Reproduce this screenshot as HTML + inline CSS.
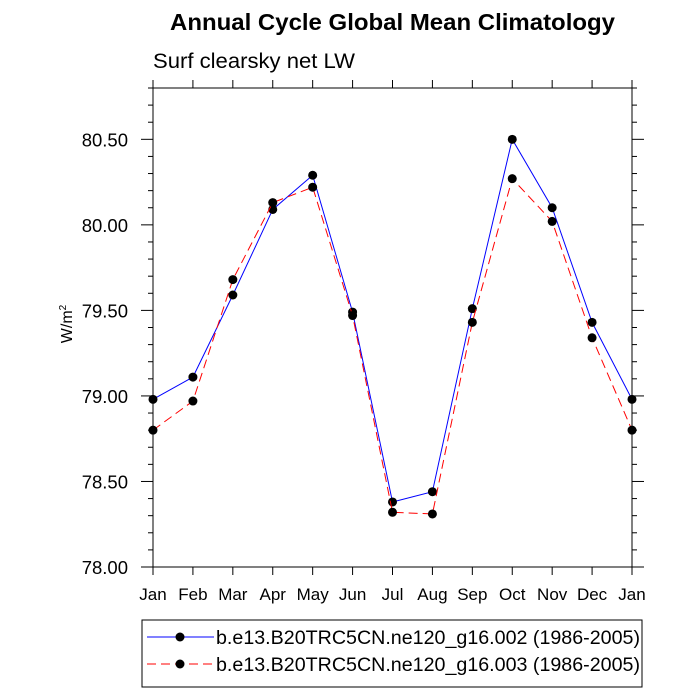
<!DOCTYPE html>
<html><head><meta charset="utf-8"><style>body{margin:0;background:#fff}svg{display:block;font-family:"Liberation Sans",sans-serif}</style></head>
<body>
<svg id="chart" width="700" height="700">
<text x="170" y="30" textLength="445" lengthAdjust="spacingAndGlyphs" font-size="23" font-weight="bold">Annual Cycle Global Mean Climatology</text>
<text x="153" y="68" textLength="202" lengthAdjust="spacingAndGlyphs" font-size="21">Surf clearsky net LW</text>
<text transform="translate(72,324) rotate(-90)" text-anchor="middle" font-size="16">W/m<tspan font-size="10" dy="-6">2</tspan></text>
<g id="axes"></g><g id="series"></g>
<rect x="142" y="620" width="500" height="67" fill="none" stroke="#000" stroke-width="1"/>
<g id="legend"></g>
</svg>
<script>
const months=["Jan","Feb","Mar","Apr","May","Jun","Jul","Aug","Sep","Oct","Nov","Dec","Jan"];
const seriesA=[78.98,79.11,79.59,80.09,80.29,79.49,78.38,78.44,79.51,80.50,80.10,79.43,78.98];
const seriesB=[78.80,78.97,79.68,80.13,80.22,79.47,78.32,78.31,79.43,80.27,80.02,79.34,78.80];
const yTicks=["78.00","78.50","79.00","79.50","80.00","80.50"];
const legendLabels=["b.e13.B20TRC5CN.ne120_g16.002 (1986-2005)","b.e13.B20TRC5CN.ne120_g16.003 (1986-2005)"];
const L=153,R=632,T=88,B=567,yMin=78,yMax=80.8;
const ns="http://www.w3.org/2000/svg";
const X=i=>L+(R-L)*i/(months.length-1);
const Y=v=>B-(v-yMin)/(yMax-yMin)*(B-T);
function mk(p,tag,a){const e=document.createElementNS(ns,tag);for(const k in a)e.setAttribute(k,a[k]);p.appendChild(e);return e;}
const ax=document.getElementById('axes');
const fr=mk(ax,'rect',{x:L,y:T,width:R-L,height:B-T,fill:'none',stroke:'#000','stroke-width':1});


for(let k=0;k<=28;k++){const v=yMin+k*0.1,y=Y(v),maj=k%5==0,len=maj?12:5;
 mk(ax,'line',{x1:L-len,x2:L,y1:y,y2:y,stroke:'#000'});mk(ax,'line',{x1:R,x2:R+len,y1:y,y2:y,stroke:'#000'});}
yTicks.forEach(t=>{const e=mk(ax,'text',{x:L-25,y:Y(+t)+7,'text-anchor':'end','font-size':18.5});e.textContent=t;
 
 });
months.forEach((m,i)=>{const x=X(i);mk(ax,'line',{x1:x,x2:x,y1:B,y2:B+8,stroke:'#000'});mk(ax,'line',{x1:x,x2:x,y1:T-8,y2:T,stroke:'#000'});
 const e=mk(ax,'text',{x:x,y:B+33,'text-anchor':'middle','font-size':17});e.textContent=m;
 
 });
const sg=document.getElementById('series');
function draw(vals,color,dash,name){const pts=vals.map((v,i)=>X(i)+','+Y(v)).join(' ');
 const pl=mk(sg,'polyline',{points:pts,fill:'none',stroke:color,'stroke-width':1,'stroke-dasharray':dash});
 
 
 vals.forEach((v,i)=>{const c=mk(sg,'circle',{cx:X(i),cy:Y(v),r:4.5,fill:'#000'});
  
  });}
draw(seriesA,'#0000ff','none','series-002');
draw(seriesB,'#ff0000','9,5','series-003');
const lg=document.getElementById('legend');
[['#0000ff','none'],['#ff0000','9,5']].forEach((s,i)=>{const y=637+i*27;
 mk(lg,'line',{x1:147,x2:214,y1:y,y2:y,stroke:s[0],'stroke-dasharray':s[1]});
 mk(lg,'circle',{cx:180,cy:y,r:4.5,fill:'#000'});
 const t=mk(lg,'text',{x:216,y:y+7,'font-size':19,textLength:424,lengthAdjust:'spacingAndGlyphs'});t.textContent=legendLabels[i];
 
 });
</script>
</body></html>
